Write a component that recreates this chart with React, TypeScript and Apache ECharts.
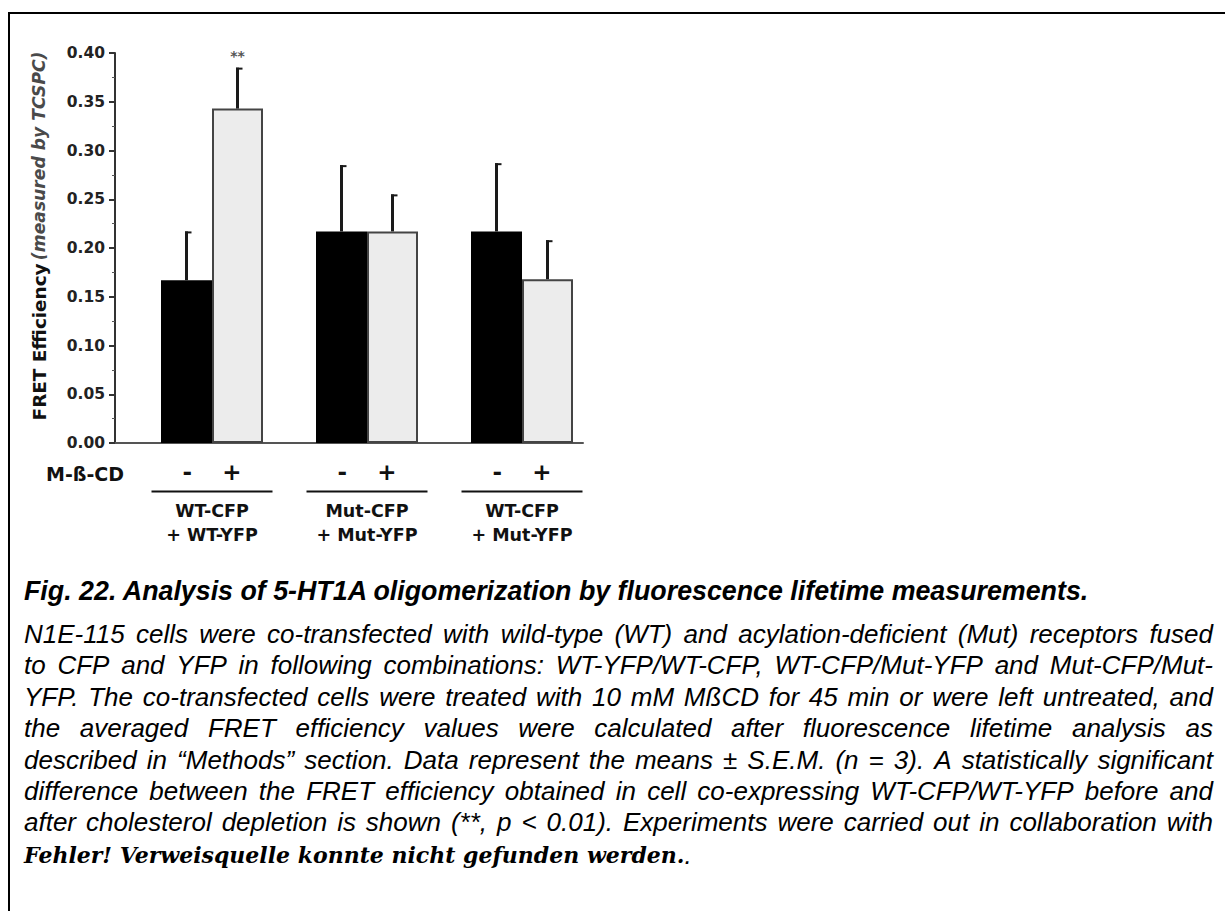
import React, { useEffect, useRef } from "react";
import * as echarts from "echarts";

// ---------- data ----------
const groupLine1 = ["WT-CFP", "Mut-CFP", "WT-CFP"];
const groupLine2 = ["+ WT-YFP", "+ Mut-YFP", "+ Mut-YFP"];
const treatmentSigns = ["-", "+"];
const untreatedMean = [0.167, 0.217, 0.217];
const untreatedSem = [0.05, 0.068, 0.07];
const treatedMean = [0.343, 0.217, 0.168];
const treatedSem = [0.042, 0.038, 0.04];
const treatedSig = ["**", "", ""];
const untreatedSig = ["", "", ""];
const yMin = 0;
const yMax = 0.4;
const yInterval = 0.05;
const yNameBold = "FRET Efficiency";
const yNameItalic = "(measured by TCSPC)";
const treatmentTitle = "M-ß-CD";

const captionTitle =
  "Fig. 22. Analysis of 5-HT1A oligomerization by fluorescence lifetime measurements.";
const captionLines = [
  "N1E-115 cells were co-transfected with wild-type (WT) and acylation-deficient (Mut) receptors fused",
  "to CFP and YFP in following combinations: WT-YFP/WT-CFP, WT-CFP/Mut-YFP and Mut-CFP/Mut-",
  "YFP. The co-transfected cells were treated with 10 mM MßCD for 45 min or were left untreated, and",
  "the averaged FRET efficiency values were calculated after fluorescence lifetime analysis as",
  "described in “Methods” section. Data represent the means ± S.E.M. (n = 3). A statistically significant",
  "difference between the FRET efficiency obtained in cell co-expressing WT-CFP/WT-YFP before and",
  "after cholesterol depletion is shown (**, p < 0.01). Experiments were carried out in collaboration with",
];
const captionError = "Fehler! Verweisquelle konnte nicht gefunden werden.";
const captionTail = ".";

// ---------- helpers ----------
const SANS = "Liberation Sans";
const BODY_SIZE = 26;
let measureCtx: CanvasRenderingContext2D | null = null;
function measure(text: string, font: string): number {
  if (!measureCtx) measureCtx = document.createElement("canvas").getContext("2d");
  measureCtx!.font = font;
  return measureCtx!.measureText(text).width;
}

function justifiedLine(line: string, left: number, right: number, y: number) {
  const font = `italic ${BODY_SIZE}px "${SANS}"`;
  const words = line.split(" ");
  const widths = words.map((w) => measure(w, font));
  const total = widths.reduce((a, b) => a + b, 0);
  const gap = words.length > 1 ? (right - left - total) / (words.length - 1) : 0;
  let x = left;
  return words.map((w, i) => {
    const el = {
      type: "text",
      x,
      y,
      silent: true,
      style: {
        text: w,
        fontFamily: SANS,
        fontStyle: "italic",
        fontSize: BODY_SIZE,
        fill: "#000",
        align: "left",
        verticalAlign: "middle",
      },
    };
    x += widths[i] + gap;
    return el;
  });
}

const BAR_W = 51;

function errorSeries(means: number[], sems: number[], sig: string[], side: number) {
  return {
    type: "custom",
    xAxisIndex: 0,
    yAxisIndex: 0,
    z: 5,
    data: means.map((m, i) => [i, m, sems[i]]),
    renderItem: (params: any, api: any) => {
      const i = api.value(0);
      const m = api.value(1);
      const s = api.value(2);
      const base = api.coord([i, m]);
      const top = api.coord([i, m + s]);
      const x = base[0] + side * (BAR_W / 2);
      const children: any[] = [
        {
          type: "line",
          shape: { x1: x, y1: base[1], x2: x, y2: top[1] },
          style: { stroke: "#1a1a1a", lineWidth: 3 },
        },
        {
          type: "line",
          shape: { x1: x - 1.5, y1: top[1] + 1, x2: x + 5, y2: top[1] + 1 },
          style: { stroke: "#1a1a1a", lineWidth: 2 },
        },
      ];
      const label = sig[params.dataIndex];
      if (label) {
        children.push({
          type: "text",
          x,
          y: top[1] - 12,
          style: {
            text: label,
            fontFamily: "DejaVu Sans",
            fontWeight: "bold",
            fontSize: 14,
            fill: "#555",
            align: "center",
            verticalAlign: "middle",
          },
        });
      }
      return { type: "group", children };
    },
  };
}

export default function App() {
  const ref = useRef<HTMLDivElement>(null);

  useEffect(() => {
    if (!ref.current) return;
    const chart = echarts.init(ref.current, undefined, { renderer: "svg" });

    const bodyTop = 634;
    const bodyStep = 31.4;
    const graphics: any[] = [
      {
        type: "line",
        shape: { x1: 8, y1: 13, x2: 1225, y2: 13 },
        style: { stroke: "#000", lineWidth: 2 },
        silent: true,
      },
      {
        type: "line",
        shape: { x1: 9, y1: 12, x2: 9, y2: 911 },
        style: { stroke: "#000", lineWidth: 2 },
        silent: true,
      },
      {
        type: "text",
        x: 46,
        y: 474,
        silent: true,
        style: {
          text: treatmentTitle,
          fontFamily: "DejaVu Sans",
          fontWeight: "bold",
          fontSize: 19,
          fill: "#111",
          align: "left",
          verticalAlign: "middle",
        },
      },
      {
        type: "text",
        x: 24,
        y: 591,
        silent: true,
        style: {
          text: captionTitle,
          fontFamily: SANS,
          fontStyle: "italic",
          fontWeight: "bold",
          fontSize: 26.8,
          fill: "#000",
          align: "left",
          verticalAlign: "middle",
        },
      },
    ];
    captionLines.forEach((line, k) => {
      graphics.push(...justifiedLine(line, 24, 1213, bodyTop + k * bodyStep));
    });
    graphics.push({
      type: "text",
      x: 24,
      y: bodyTop + captionLines.length * bodyStep + 1,
      silent: true,
      style: {
        text: `{e|${captionError}}{d|${captionTail}}`,
        align: "left",
        verticalAlign: "middle",
        rich: {
          e: {
            fontFamily: "DejaVu Serif",
            fontStyle: "italic",
            fontWeight: "bold",
            fontSize: 22,
            fill: "#000",
          },
          d: {
            fontFamily: SANS,
            fontStyle: "italic",
            fontSize: BODY_SIZE,
            fill: "#000",
          },
        },
      },
    });

    const option: any = {
      animation: false,
      backgroundColor: "#fff",
      grid: [
        { left: 134.5, top: 53, width: 465, height: 390 },
        { left: 115, top: 53, width: 468, height: 390 },
      ],
      xAxis: [
        {
          gridIndex: 0,
          type: "category",
          data: groupLine1,
          axisLine: { show: false },
          axisTick: { show: false },
          axisLabel: {
            interval: 0,
            margin: 17,
            formatter: (_v: string, idx: number) =>
              `{pm|${treatmentSigns[0]}}{sp|}{pm|${treatmentSigns[1]}}\n{ul|}\n{g|${groupLine1[idx]}}\n{g|${groupLine2[idx]}}`,
            rich: {
              pm: {
                fontFamily: "DejaVu Sans",
                fontWeight: "bold",
                fontSize: 23,
                lineHeight: 24,
                color: "#111",
              },
              sp: { width: 30, lineHeight: 24 },
              ul: { width: 121, height: 2, lineHeight: 15, backgroundColor: "#111" },
              g: {
                fontFamily: "DejaVu Sans",
                fontWeight: "bold",
                fontSize: 17.5,
                lineHeight: 24,
                color: "#111",
              },
            },
          },
        },
        {
          gridIndex: 1,
          type: "value",
          min: 0,
          max: 1,
          axisLine: { show: true, lineStyle: { color: "#555", width: 2 } },
          axisTick: { show: false },
          axisLabel: { show: false },
          splitLine: { show: false },
        },
      ],
      yAxis: [
        { gridIndex: 0, type: "value", min: yMin, max: yMax, show: false },
        {
          gridIndex: 1,
          type: "value",
          min: yMin,
          max: yMax,
          interval: yInterval,
          axisLine: { show: true, lineStyle: { color: "#333", width: 2 } },
          axisTick: { show: true, length: 6, lineStyle: { color: "#333", width: 2 } },
          minorTick: { show: true, splitNumber: 2, length: 3, lineStyle: { color: "#555", width: 1 } },
          splitLine: { show: false },
          axisLabel: {
            margin: 10,
            formatter: (v: number) => v.toFixed(2),
            fontFamily: "DejaVu Sans",
            fontWeight: "bold",
            fontSize: 15.5,
            color: "#222",
          },
          name: `{b|${yNameBold}} {i|${yNameItalic}}`,
          nameLocation: "middle",
          nameGap: 67,
          nameTextStyle: {
            padding: [0, 0, 0, 24],
            rich: {
              b: { fontFamily: "DejaVu Sans", fontWeight: "bold", fontSize: 18.4, color: "#111" },
              i: { fontFamily: "DejaVu Sans", fontStyle: "italic", fontWeight: "bold", fontSize: 17.2, color: "#4a4a4a" },
            },
          },
        },
      ],
      series: [
        {
          type: "bar",
          xAxisIndex: 0,
          yAxisIndex: 0,
          data: untreatedMean,
          barWidth: BAR_W,
          barGap: "0%",
          itemStyle: { color: "#000" },
        },
        {
          type: "bar",
          xAxisIndex: 0,
          yAxisIndex: 0,
          data: treatedMean,
          barWidth: BAR_W,
          barGap: "0%",
          itemStyle: { color: "#ececec", borderColor: "#444", borderWidth: 2 },
        },
        errorSeries(untreatedMean, untreatedSem, untreatedSig, -1),
        errorSeries(treatedMean, treatedSem, treatedSig, 1),
      ],
      graphic: graphics,
    };

    chart.setOption(option);
    return () => chart.dispose();
  }, []);

  return (
    <div
      ref={ref}
      style={{ position: "fixed", left: 0, top: 0, width: 1225, height: 911, background: "#fff" }}
    />
  );
}
